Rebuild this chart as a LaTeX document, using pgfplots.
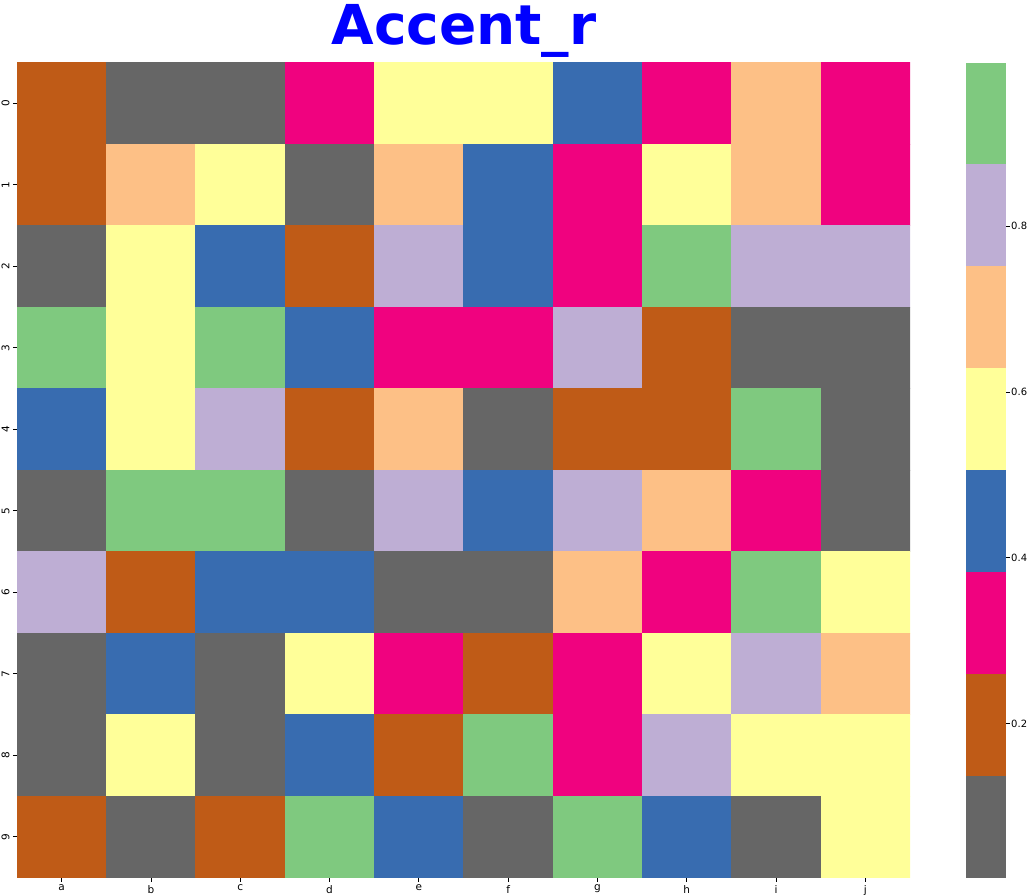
\documentclass[border=0pt]{standalone}
\usepackage{pgfplots}
\pgfplotsset{compat=1.18}
\usepackage{fontspec}
\setmainfont{DejaVu Sans}
\definecolor{accGray}{HTML}{666666}
\definecolor{accBrown}{HTML}{BF5B17}
\definecolor{accPink}{HTML}{F0027F}
\definecolor{accBlue}{HTML}{386CB0}
\definecolor{accYellow}{HTML}{FFFF99}
\definecolor{accOrange}{HTML}{FDC086}
\definecolor{accPurple}{HTML}{BEAED4}
\definecolor{accGreen}{HTML}{7FC97F}
\begin{document}
\begin{tikzpicture}[x=1pt,y=1pt]
\useasboundingbox (0,0) rectangle (1029,895);
\node[anchor=base, text=blue, font=\fontsize{55}{60}\selectfont\bfseries] at (464,850) {Accent\_r};
\begin{axis}[
  at={(17pt,17.5pt)}, anchor=south west,
  width=893pt, height=815pt, scale only axis,
  xmin=-0.5, xmax=9.5, ymin=-0.5, ymax=9.5,
  y dir=reverse, enlargelimits=false,
  axis line style={draw=none},
  tick align=outside, major tick length=4pt,
  tick style={black, line width=0.8pt},
  xtick pos=bottom, ytick pos=left,
  xtick={0,...,9}, ytick={0,...,9},
  xticklabels={a,b,c,d,e,f,g,h,i,j},
  yticklabels={0,1,2,3,4,5,6,7,8,9},
  ticklabel style={font=\fontsize{10.5}{12}\selectfont},
  yticklabel style={rotate=90, anchor=south},
  colormap={accentr}{color(0)=(accGray) color(1)=(accBrown) color(2)=(accPink) color(3)=(accBlue) color(4)=(accYellow) color(5)=(accOrange) color(6)=(accPurple) color(7)=(accGreen) color(8)=(accGreen)},
  colormap access=piecewise constant,
  point meta min=0.0145, point meta max=0.9972,
  colorbar,
  colorbar shift/.style={xshift=56pt},
  colorbar style={
    at={(parent axis.north east)}, anchor=north west,
    width=40pt, height=815pt, scale only axis,
    axis line style={draw=none},
    ytick={0.2,0.4,0.6,0.8},
    yticklabel pos=right,
    ytick pos=right,
    tick align=outside, major tick length=4pt,
    tick style={black, line width=0.8pt},
    /pgf/number format/fixed, /pgf/number format/precision=1,
    /pgf/number format/assume math mode=true,
    yticklabel style={font=\fontsize{10}{12}\selectfont, inner sep=1pt},
  },
]
\addplot[matrix plot*, mesh/cols=10, point meta=explicit] table[meta=v] {
x y v
0 0 0.199
1 0 0.076
2 0 0.076
3 0 0.322
4 0 0.567
5 0 0.567
6 0 0.445
7 0 0.322
8 0 0.690
9 0 0.322
0 1 0.199
1 1 0.690
2 1 0.567
3 1 0.076
4 1 0.690
5 1 0.445
6 1 0.322
7 1 0.567
8 1 0.690
9 1 0.322
0 2 0.076
1 2 0.567
2 2 0.445
3 2 0.199
4 2 0.813
5 2 0.445
6 2 0.322
7 2 0.936
8 2 0.813
9 2 0.813
0 3 0.936
1 3 0.567
2 3 0.936
3 3 0.445
4 3 0.322
5 3 0.322
6 3 0.813
7 3 0.199
8 3 0.076
9 3 0.076
0 4 0.445
1 4 0.567
2 4 0.813
3 4 0.199
4 4 0.690
5 4 0.076
6 4 0.199
7 4 0.199
8 4 0.936
9 4 0.076
0 5 0.076
1 5 0.936
2 5 0.936
3 5 0.076
4 5 0.813
5 5 0.445
6 5 0.813
7 5 0.690
8 5 0.322
9 5 0.076
0 6 0.813
1 6 0.199
2 6 0.445
3 6 0.445
4 6 0.076
5 6 0.076
6 6 0.690
7 6 0.322
8 6 0.936
9 6 0.567
0 7 0.076
1 7 0.445
2 7 0.076
3 7 0.567
4 7 0.322
5 7 0.199
6 7 0.322
7 7 0.567
8 7 0.813
9 7 0.690
0 8 0.076
1 8 0.567
2 8 0.076
3 8 0.445
4 8 0.199
5 8 0.936
6 8 0.322
7 8 0.813
8 8 0.567
9 8 0.567
0 9 0.199
1 9 0.076
2 9 0.199
3 9 0.936
4 9 0.445
5 9 0.076
6 9 0.936
7 9 0.445
8 9 0.076
9 9 0.567
};
\end{axis}
\end{tikzpicture}
\end{document}
